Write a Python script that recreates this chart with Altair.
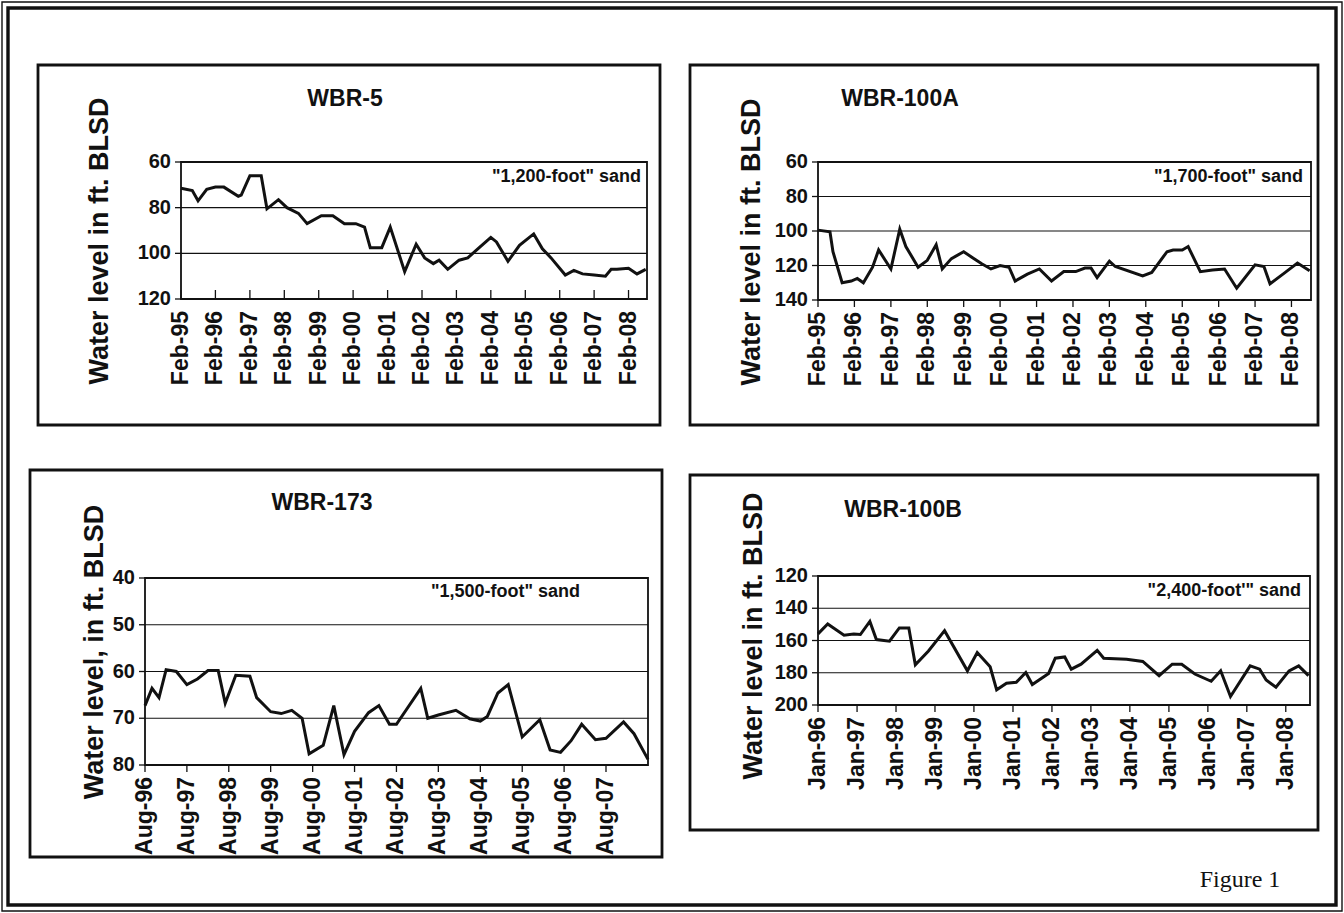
import altair as alt
import pandas as pd

PAGE_W, PAGE_H = 1344, 913
FONT = "Liberation Sans"
INK = "#111111"

# ---------------- WBR-5, "1,200-foot" sand ----------------
wbr5_dates = [
    "1995-02-01", "1995-06-01", "1995-08-01", "1995-11-01", "1996-02-01",
    "1996-05-01", "1996-10-01", "1996-11-01", "1997-02-01", "1997-06-01",
    "1997-08-01", "1997-12-01", "1998-03-01", "1998-07-01", "1998-10-01",
    "1999-03-01", "1999-07-01", "1999-11-01", "2000-03-01", "2000-06-01",
    "2000-08-01", "2000-12-01", "2001-03-01", "2001-08-01", "2001-12-01",
    "2002-03-01", "2002-06-01", "2002-08-01", "2002-11-01", "2003-03-01",
    "2003-06-01", "2003-10-01", "2004-02-01", "2004-04-01", "2004-08-01",
    "2004-12-01", "2005-05-01", "2005-08-01", "2005-11-01", "2006-04-01",
    "2006-07-01", "2006-10-01", "2007-02-01", "2007-06-01", "2007-08-01",
    "2007-10-01", "2008-02-01", "2008-05-01", "2008-08-01",
]
wbr5_levels = [
    71.5, 72.5, 77, 72, 71, 71, 75, 74.5, 66, 66,
    80.5, 76.5, 80, 82.5, 87, 83.5, 83.5, 87, 87, 88.5,
    97.5, 97.5, 88.5, 108, 96, 102, 104.5, 103, 107, 103,
    102, 97.5, 93, 95, 103.5, 96.5, 91.5, 98, 102, 109.5,
    107.5, 109, 109.5, 110, 107, 107, 106.5, 109, 107,
]
wbr5_ticks = [f"{y}-02-01" for y in range(1995, 2009)]

# ---------------- WBR-100A, "1,700-foot" sand ----------------
wbr100a_dates = [
    "1995-02-01", "1995-06-01", "1995-07-01", "1995-10-01", "1996-01-01",
    "1996-03-01", "1996-05-01", "1996-08-01", "1996-10-01", "1997-02-01",
    "1997-05-01", "1997-07-01", "1997-11-01", "1998-02-01", "1998-05-01",
    "1998-07-01", "1998-10-01", "1999-02-01", "1999-05-01", "1999-08-01",
    "1999-11-01", "2000-02-01", "2000-05-01", "2000-07-01", "2000-11-01",
    "2001-03-01", "2001-07-01", "2001-11-01", "2002-03-01", "2002-06-01",
    "2002-08-01", "2002-10-01", "2003-02-01", "2003-04-01", "2004-01-01",
    "2004-04-01", "2004-09-01", "2004-11-01", "2005-02-01", "2005-04-01",
    "2005-08-01", "2005-12-01", "2006-04-01", "2006-08-01", "2007-02-01",
    "2007-05-01", "2007-07-01", "2007-12-01", "2008-04-01", "2008-08-01",
]
wbr100a_levels = [
    99.5, 100.5, 112, 130, 129, 127.5, 130, 121, 111, 122,
    99, 109, 121, 117, 108, 122, 116, 112, 115.5, 119,
    122, 120, 121, 129, 125, 122, 129, 123.5, 123.5, 121.5,
    121.5, 127, 117.5, 120.6, 126, 124, 112, 111, 111, 109,
    123.6, 122.6, 122, 133.2, 119.6, 120.6, 130.6, 124, 118.6, 123,
]
wbr100a_ticks = [f"{y}-02-01" for y in range(1995, 2009)]

# ---------------- WBR-173, "1,500-foot" sand ----------------
wbr173_dates = [
    "1996-08-01", "1996-10-01", "1996-12-01", "1997-02-01", "1997-05-01",
    "1997-08-01", "1997-11-01", "1998-02-01", "1998-05-01", "1998-07-01",
    "1998-10-01", "1999-02-01", "1999-04-01", "1999-08-01", "1999-11-01",
    "2000-02-01", "2000-05-01", "2000-07-01", "2000-11-01", "2001-02-01",
    "2001-05-01", "2001-08-01", "2001-12-01", "2002-03-01", "2002-06-01",
    "2002-08-01", "2003-03-01", "2003-05-01", "2003-08-01", "2004-01-01",
    "2004-05-01", "2004-08-01", "2004-10-01", "2005-01-01", "2005-04-01",
    "2005-08-01", "2006-01-01", "2006-04-01", "2006-07-01", "2006-10-01",
    "2007-01-01", "2007-05-01", "2007-08-01", "2008-01-01", "2008-04-01",
    "2008-08-01",
]
wbr173_levels = [
    67.3, 63.6, 65.6, 59.6, 60, 62.8, 61.6, 59.8, 59.8, 66.8,
    60.8, 61, 65.6, 68.6, 69, 68.3, 70, 77.6, 75.8, 67.3,
    77.8, 72.8, 68.8, 67.3, 71.3, 71.3, 63.6, 70, 69.3, 68.3,
    70.1, 70.6, 69.6, 64.6, 62.8, 74, 70.3, 76.8, 77.3, 74.8,
    71.3, 74.6, 74.3, 70.8, 73.3, 78.8,
]
wbr173_ticks = [f"{y}-08-01" for y in range(1996, 2008)]

# ---------------- WBR-100B, "2,400-foot" sand ----------------
wbr100b_dates = [
    "1996-01-01", "1996-04-01", "1996-09-01", "1996-12-01", "1997-02-01",
    "1997-05-01", "1997-07-01", "1997-11-01", "1998-02-01", "1998-05-01",
    "1998-07-01", "1998-11-01", "1999-04-01", "1999-11-01", "2000-02-01",
    "2000-06-01", "2000-08-01", "2000-11-01", "2001-02-01", "2001-05-01",
    "2001-07-01", "2001-12-01", "2002-02-01", "2002-05-01", "2002-07-01",
    "2002-10-01", "2003-03-01", "2003-05-01", "2003-12-01", "2004-05-01",
    "2004-10-01", "2005-02-01", "2005-05-01", "2005-09-01", "2006-02-01",
    "2006-05-01", "2006-08-01", "2007-02-01", "2007-05-01", "2007-07-01",
    "2007-10-01", "2008-02-01", "2008-05-01", "2008-08-01",
]
wbr100b_levels = [
    155.9, 149.8, 156.7, 155.9, 156.3, 148.2, 159.4, 160.4, 152.2, 152.2,
    175.1, 166.5, 153.9, 178.8, 167.5, 176.3, 190.6, 186.5, 185.9, 179.8,
    187.3, 180.4, 171, 170.2, 177.8, 174.7, 166.1, 171, 171.6, 173,
    181.8, 174.7, 174.7, 180.8, 185.3, 178.8, 194.7, 175.7, 177.8, 184.5,
    189, 178.8, 175.7, 181.8,
]
wbr100b_ticks = [f"{y}-01-01" for y in range(1996, 2009)]


def utc(iso):
    y, m, d = (int(v) for v in iso.split("-"))
    return alt.DateTime(year=y, month=m, date=d, utc=True)


one_row = pd.DataFrame({"k": [0]})


def panel(dates, levels, ticks, x_end, y_dom, y_ticks, px, py, inner_ticks=False):
    """One hydrograph: frame, gridlines, water-level line, tick marks and labels."""
    df = pd.DataFrame({"date": dates, "level": levels})
    xs = alt.Scale(type="utc", domain=[utc(ticks[0]), utc(x_end)], range=list(px))
    ys = alt.Scale(domain=list(y_dom), range=list(py), nice=False, zero=False)

    x_tab = pd.DataFrame({"date": ticks})
    x_tab["lab"] = pd.to_datetime(x_tab["date"]).dt.strftime("%b-%y")
    y_tab = pd.DataFrame({"level": list(y_ticks), "lab": [str(v) for v in y_ticks]})

    X = lambda f: alt.X(f, scale=xs, axis=None)
    Y = lambda f: alt.Y(f, scale=ys, axis=None)

    grid = alt.Chart(y_tab).mark_rule(color=INK, strokeWidth=1.2).encode(
        y=Y("level:Q"), x=alt.value(px[0]), x2=alt.value(px[1]),
    )
    y_tick = alt.Chart(y_tab).mark_rule(color=INK, strokeWidth=1.3).encode(
        y=Y("level:Q"), x=alt.value(px[0] - 6), x2=alt.value(px[0]),
    )
    y_lab = alt.Chart(y_tab).mark_text(
        font=FONT, fontSize=20, fontWeight="bold", color=INK,
        align="right", baseline="middle",
    ).encode(y=Y("level:Q"), x=alt.value(px[0] - 10), text="lab:N")

    if inner_ticks:
        x_tick = alt.Chart(x_tab).mark_rule(color=INK, strokeWidth=1.3).encode(
            x=X("date:T"), y=alt.value(py[1] - 9), y2=alt.value(py[1]),
        )
    else:
        x_tick = alt.Chart(x_tab).mark_rule(color=INK, strokeWidth=1.3).encode(
            x=X("date:T"), y=alt.value(py[1]), y2=alt.value(py[1] + 7),
        )
    x_lab = alt.Chart(x_tab).mark_text(
        font=FONT, fontSize=23, fontWeight="bold", color=INK,
        align="right", baseline="middle", angle=270,
    ).encode(x=X("date:T"), y=alt.value(py[1] + 12), text="lab:N")

    frame = alt.Chart(one_row).mark_rect(
        fillOpacity=0, stroke=INK, strokeWidth=1.8
    ).encode(
        x=alt.value(px[0]), x2=alt.value(px[1]),
        y=alt.value(py[0]), y2=alt.value(py[1]),
    )
    line = alt.Chart(df).mark_line(color=INK, strokeWidth=3).encode(
        x=X("date:T"), y=Y("level:Q"),
    )
    return alt.layer(grid, y_tick, y_lab, x_tick, x_lab, frame, line)


def box(x0, y0, x1, y1, width=2.8):
    return alt.Chart(one_row).mark_rect(
        fillOpacity=0, stroke=INK, strokeWidth=width
    ).encode(x=alt.value(x0), x2=alt.value(x1), y=alt.value(y0), y2=alt.value(y1))


def label(text, x, y, size, align="center", angle=0, font=FONT, weight="bold"):
    return alt.Chart(one_row).mark_text(
        text=text, font=font, fontSize=size, fontWeight=weight, color=INK,
        align=align, baseline="middle", angle=angle,
    ).encode(x=alt.value(x), y=alt.value(y))


p1 = panel(wbr5_dates, wbr5_levels, wbr5_ticks, "2008-08-15",
           (60, 120), [60, 80, 100, 120], (181, 647), (162, 299), inner_ticks=True)
p2 = panel(wbr100a_dates, wbr100a_levels, wbr100a_ticks, "2008-08-15",
           (60, 140), [60, 80, 100, 120, 140], (818, 1311), (162, 300))
p3 = panel(wbr173_dates, wbr173_levels, wbr173_ticks, "2008-08-01",
           (40, 80), [40, 50, 60, 70, 80], (145, 648), (578, 765))
p4 = panel(wbr100b_dates, wbr100b_levels, wbr100b_ticks, "2008-08-15",
           (120, 200), [120, 140, 160, 180, 200], (818, 1310), (576, 705))

decor = [
    # page border (thin outer line, heavy inner line)
    box(2, 2, 1342, 911, width=1.4),
    box(8, 8, 1336, 905, width=3.4),
    # panel frames
    box(38, 65, 660, 425),
    box(690, 65, 1318, 425),
    box(30, 470, 662, 857),
    box(690, 475, 1318, 830),
    # panel titles
    label("WBR-5", 345, 99, 23),
    label("WBR-100A", 900, 99, 23),
    label("WBR-173", 322, 503, 23),
    label("WBR-100B", 903, 510, 23),
    # y-axis titles
    label("Water level in ft. BLSD", 100, 241, 27, angle=270),
    label("Water level in ft. BLSD", 752, 242, 27, angle=270),
    label("Water level, in ft. BLSD", 95, 652, 27, angle=270),
    label("Water level in ft. BLSD", 754, 636, 27, angle=270),
    # aquifer notes
    label('"1,200-foot" sand', 641, 177, 18, align="right"),
    label('"1,700-foot" sand', 1303, 177, 18, align="right"),
    label('"1,500-foot" sand', 580, 592, 18, align="right"),
    label('"2,400-foot\'" sand', 1301, 591, 18, align="right"),
    # figure number
    label("Figure 1", 1240, 880, 24, font="Liberation Serif", weight="normal"),
]

chart = alt.layer(p1, p2, p3, p4, *decor).resolve_scale(
    x="independent", y="independent"
).properties(
    width=PAGE_W, height=PAGE_H, padding=0,
    autosize=alt.AutoSizeParams(type="none"),
    background="white",
).configure_view(stroke=None)

chart.save("out.html", embed_options={"renderer": "svg", "actions": False})
